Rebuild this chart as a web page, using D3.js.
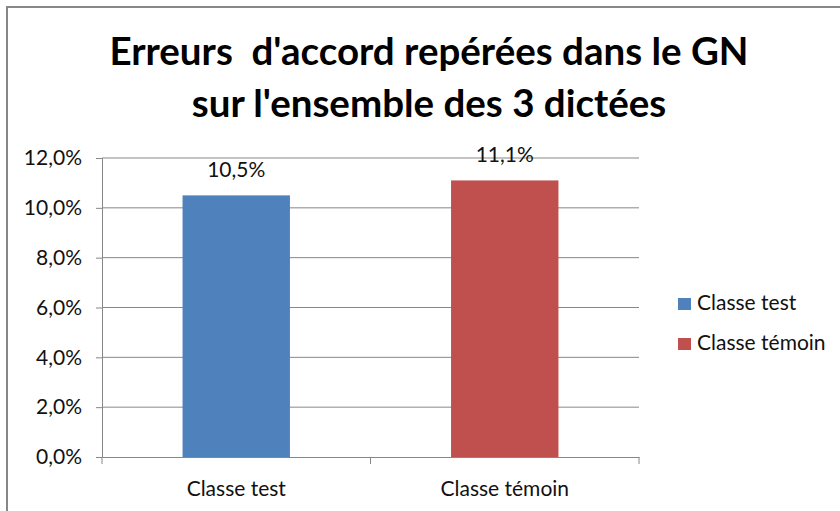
<!DOCTYPE html>
<html>
<head>
<meta charset="utf-8">
<script src="https://cdnjs.cloudflare.com/ajax/libs/d3/7.8.5/d3.min.js"></script>
<style>
  body { margin: 0; background: #fff; }
  text { font-family: Lato, "Open Sans", sans-serif; fill: #111; }
</style>
</head>
<body>
<svg class="chart"></svg>
<script>
var categories = ['Classe test', 'Classe témoin'];
var values = [0.105, 0.111];
var colors = ['#4F81BD', '#C0504D'];
var yTicks = [0, 0.02, 0.04, 0.06, 0.08, 0.10, 0.12];
var titleLines = ["Erreurs  d'accord repérées dans le GN", "sur l'ensemble des 3 dictées"];

var fmt = d => d3.format('.1%')(d).replace('.', ',');

var svg = d3.select('.chart')
            .attr('width', 840)
            .attr('height', 511);

// outer frame (only top and left are visible in the crop)
svg.append('path')
   .attr('d', 'M7,511V7H840')
   .attr('fill', 'none')
   .attr('stroke', '#878787')
   .attr('stroke-width', 2);

// title
svg.append('g')
   .selectAll('text')
   .data(titleLines)
   .join('text')
   .attr('x', 429)
   .attr('y', (d, i) => 65 + i * 52)
   .attr('text-anchor', 'middle')
   .style('font-size', '38.5px')
   .style('font-weight', 'bold')
   .style('white-space', 'pre')
   .style('fill', '#000')
   .text(d => d);

var xScale = d3.scaleBand()
               .domain(categories)
               .range([102, 639]);

var yScale = d3.scaleLinear()
               .domain([0, 0.12])
               .range([457, 158]);

// grid
svg.append('g')
   .selectAll('line')
   .data(yTicks.slice(1))
   .join('line')
   .attr('x1', 102)
   .attr('x2', 639)
   .attr('y1', d => yScale(d))
   .attr('y2', d => yScale(d))
   .attr('stroke', '#878787')
   .attr('stroke-width', 1);

var yAxis = d3.axisLeft(yScale)
              .tickValues(yTicks)
              .tickFormat(fmt)
              .tickSize(6)
              .tickPadding(14);

var gy = svg.append('g')
            .attr('transform', 'translate(102,0)')
            .call(yAxis);

var xAxis = d3.axisBottom(xScale)
              .tickSize(0)
              .tickPadding(24);

var gx = svg.append('g')
            .attr('transform', 'translate(0,457)')
            .call(xAxis);

// category separators, excel style
gx.selectAll('.sep')
  .data(categories.map(c => xScale(c)).concat([xScale.range()[1]]))
  .join('line')
  .attr('class', 'sep')
  .attr('x1', d => d)
  .attr('x2', d => d)
  .attr('y1', 0)
  .attr('y2', 7)
  .attr('stroke', '#878787');

svg.selectAll('.domain')
   .attr('stroke', '#878787');
svg.selectAll('.tick line')
   .attr('stroke', '#878787');
svg.selectAll('.tick text')
   .style('font-size', '21px')
   .style('font-family', 'Lato, sans-serif')
   .attr('fill', '#111');

// bars
var barW = xScale.bandwidth() * 0.4;
svg.selectAll('.bar')
   .data(categories)
   .join('rect')
   .attr('class', 'bar')
   .attr('x', d => xScale(d) + (xScale.bandwidth() - barW) / 2)
   .attr('y', (d, i) => yScale(values[i]))
   .attr('width', barW)
   .attr('height', (d, i) => yScale(0) - yScale(values[i]))
   .attr('fill', (d, i) => colors[i]);

// value labels
svg.selectAll('.lbl')
   .data(categories)
   .join('text')
   .attr('class', 'lbl')
   .attr('x', d => xScale(d) + xScale.bandwidth() / 2)
   .attr('y', (d, i) => yScale(values[i]) - 18)
   .attr('text-anchor', 'middle')
   .style('font-size', '21px')
   .text((d, i) => fmt(values[i]));

// legend
var legend = svg.append('g')
                .attr('transform', 'translate(678,298)')
                .selectAll('g')
                .data(categories)
                .join('g')
                .attr('transform', (d, i) => 'translate(0,' + i * 40 + ')');

legend.append('rect')
      .attr('width', 13)
      .attr('height', 12)
      .attr('fill', (d, i) => colors[i]);

legend.append('text')
      .attr('x', 19)
      .attr('y', 12)
      .style('font-size', '21px')
      .text(d => d);
</script>
</body>
</html>
